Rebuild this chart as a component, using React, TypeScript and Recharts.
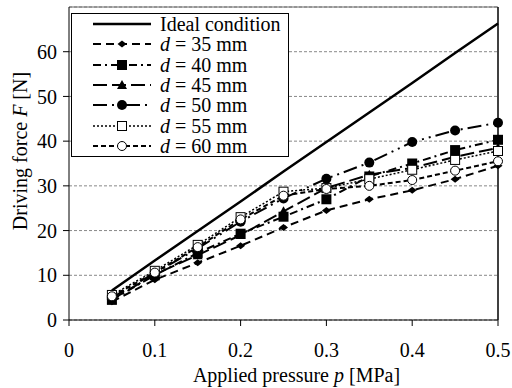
import React from 'react';
import { LineChart, Line, XAxis, YAxis, CartesianGrid, ReferenceLine, Legend, Label } from 'recharts';

const pressure = [0.05, 0.1, 0.15, 0.2, 0.25, 0.3, 0.35, 0.4, 0.45, 0.5];
const ideal = [6.6, 13.3, 19.9, 26.5, 33.2, 39.8, 46.4, 53.0, 59.7, 66.3];
const d35 = [4.1, 9.0, 12.8, 16.6, 20.7, 24.5, 27.0, 29.0, 31.5, 34.5];
const d40 = [4.5, 10.0, 15.0, 19.3, 23.1, 27.0, 32.1, 35.0, 38.0, 40.3];
const d45 = [4.6, 10.2, 14.5, 19.0, 24.3, 29.5, 32.5, 34.0, 36.5, 38.5];
const d50 = [5.0, 10.5, 16.0, 22.0, 27.2, 31.6, 35.2, 39.8, 42.4, 44.1];
const d55 = [5.6, 11.0, 16.8, 23.0, 28.7, 29.5, 31.5, 33.6, 35.8, 37.8];
const d60 = [5.3, 10.6, 16.3, 22.5, 27.8, 29.3, 30.0, 31.3, 33.4, 35.5];

const xTicks = [0, 0.1, 0.2, 0.3, 0.4, 0.5];
const yTicks = [0, 10, 20, 30, 40, 50, 60];

const data = pressure.map((p, i) => ({
  p,
  ideal: ideal[i],
  d35: d35[i],
  d40: d40[i],
  d45: d45[i],
  d50: d50[i],
  d55: d55[i],
  d60: d60[i],
}));

const FONT = 'Liberation Serif, Times New Roman, serif';

type MarkerKind = 'none' | 'diamond' | 'square' | 'triangle' | 'circle' | 'osquare' | 'ocircle';

function Marker({ kind, cx, cy }: { kind: MarkerKind; cx: number; cy: number }) {
  switch (kind) {
    case 'diamond':
      return <path d={`M${cx - 4.5},${cy} L${cx},${cy - 3.5} L${cx + 4.5},${cy} L${cx},${cy + 3.5} Z`} fill="#000" />;
    case 'square':
      return <rect x={cx - 5} y={cy - 5} width={10} height={10} fill="#000" />;
    case 'triangle':
      return <path d={`M${cx},${cy - 5} L${cx + 5},${cy + 4} L${cx - 5},${cy + 4} Z`} fill="#000" />;
    case 'circle':
      return <circle cx={cx} cy={cy} r={5} fill="#000" />;
    case 'osquare':
      return <rect x={cx - 4.5} y={cy - 4.5} width={9} height={9} fill="#fff" stroke="#000" strokeWidth={1} />;
    case 'ocircle':
      return <circle cx={cx} cy={cy} r={4.5} fill="#fff" stroke="#000" strokeWidth={1} />;
    default:
      return null;
  }
}

const series: { key: string; name: string; italic: boolean; dash?: string; width: number; marker: MarkerKind }[] = [
  { key: 'ideal', name: 'Ideal condition', italic: false, dash: undefined, width: 2.5, marker: 'none' },
  { key: 'd35', name: '35 mm', italic: true, dash: '8 5', width: 2, marker: 'diamond' },
  { key: 'd40', name: '40 mm', italic: true, dash: '8 4 2 4', width: 2, marker: 'square' },
  { key: 'd45', name: '45 mm', italic: true, dash: '14 5', width: 2, marker: 'triangle' },
  { key: 'd50', name: '50 mm', italic: true, dash: '14 5 2 5 2 5', width: 2, marker: 'circle' },
  { key: 'd55', name: '55 mm', italic: true, dash: '2 2', width: 1.5, marker: 'osquare' },
  { key: 'd60', name: '60 mm', italic: true, dash: '5 3', width: 2, marker: 'ocircle' },
];

function LegendBox() {
  return (
    <div
      style={{
        border: '1px solid #000',
        background: '#fff',
        width: 218,
        boxSizing: 'border-box',
        fontFamily: FONT,
        fontSize: 20,
        color: '#000',
      }}
    >
      {series.map((s) => (
        <div key={s.key} style={{ display: 'flex', alignItems: 'center', height: 20.3, whiteSpace: 'nowrap' }}>
          <svg width={80} height={20} style={{ flex: 'none' }}>
            <line x1={21} y1={10} x2={79} y2={10} stroke="#000" strokeWidth={s.width} strokeDasharray={s.dash} />
            <Marker kind={s.marker} cx={50} cy={10} />
          </svg>
          <span style={{ marginLeft: 8, lineHeight: '20px' }}>
            {s.italic ? (
              <>
                <i>d</i> = {s.name}
              </>
            ) : (
              s.name
            )}
          </span>
        </div>
      ))}
    </div>
  );
}

const XLabel = (props: any) => {
  const vb = props.viewBox || { x: 69, y: 320, width: 429, height: 68 };
  return (
    <text x={vb.x + vb.width / 2 + 13} y={vb.y + 62} textAnchor="middle" fontFamily={FONT} fontSize={20} fill="#000">
      Applied pressure <tspan fontStyle="italic">p</tspan> [MPa]
    </text>
  );
};

const YLabel = () => {
  const cx = 27;
  const cy = 151;
  return (
    <text x={cx} y={cy} textAnchor="middle" fontFamily={FONT} fontSize={20} fill="#000" transform={`rotate(-90 ${cx} ${cy})`}>
      Driving force <tspan fontStyle="italic">F</tspan> [N]
    </text>
  );
};

export default function App() {
  return (
    <div style={{ position: 'absolute', left: 0, top: 0, width: 512, height: 388, background: '#fff' }}>
      <LineChart width={512} height={388} data={data} margin={{ top: 7, right: 14, left: 0, bottom: 0 }}>
        <CartesianGrid vertical={false} stroke="#888" strokeDasharray="3 2" />
        <XAxis
          dataKey="p"
          type="number"
          domain={[0, 0.5]}
          ticks={xTicks}
          height={68}
          tickSize={6}
          tickMargin={17}
          stroke="#000"
          tick={{ fill: '#000', fontFamily: FONT, fontSize: 20 }}
          tickFormatter={(v: number) => String(v)}
        >
          <Label content={<XLabel />} />
        </XAxis>
        <YAxis
          type="number"
          domain={[0, 70]}
          ticks={yTicks}
          width={69}
          tickSize={6}
          tickMargin={6}
          stroke="#000"
          tick={{ fill: '#000', fontFamily: FONT, fontSize: 20 }}
        >
          <Label content={<YLabel />} />
        </YAxis>
        <ReferenceLine y={70} stroke="#666" strokeWidth={1} />
        <ReferenceLine x={0.5} stroke="#000" strokeWidth={1.5} />
        {series.map((s) => (
          <Line
            key={s.key}
            dataKey={s.key}
            name={s.name}
            type="linear"
            stroke="#000"
            strokeWidth={s.width}
            strokeDasharray={s.dash}
            dot={s.marker === 'none' ? false : (p: any) => <Marker key={`${s.key}-${p.index}`} kind={s.marker} cx={p.cx} cy={p.cy} />}
            activeDot={false}
            isAnimationActive={false}
          />
        ))}
        <Legend
          layout="vertical"
          align="center"
          verticalAlign="middle"
          content={() => <LegendBox />}
          wrapperStyle={{ position: 'absolute', left: 71, top: 13, width: 'auto' }}
        />
      </LineChart>
    </div>
  );
}
